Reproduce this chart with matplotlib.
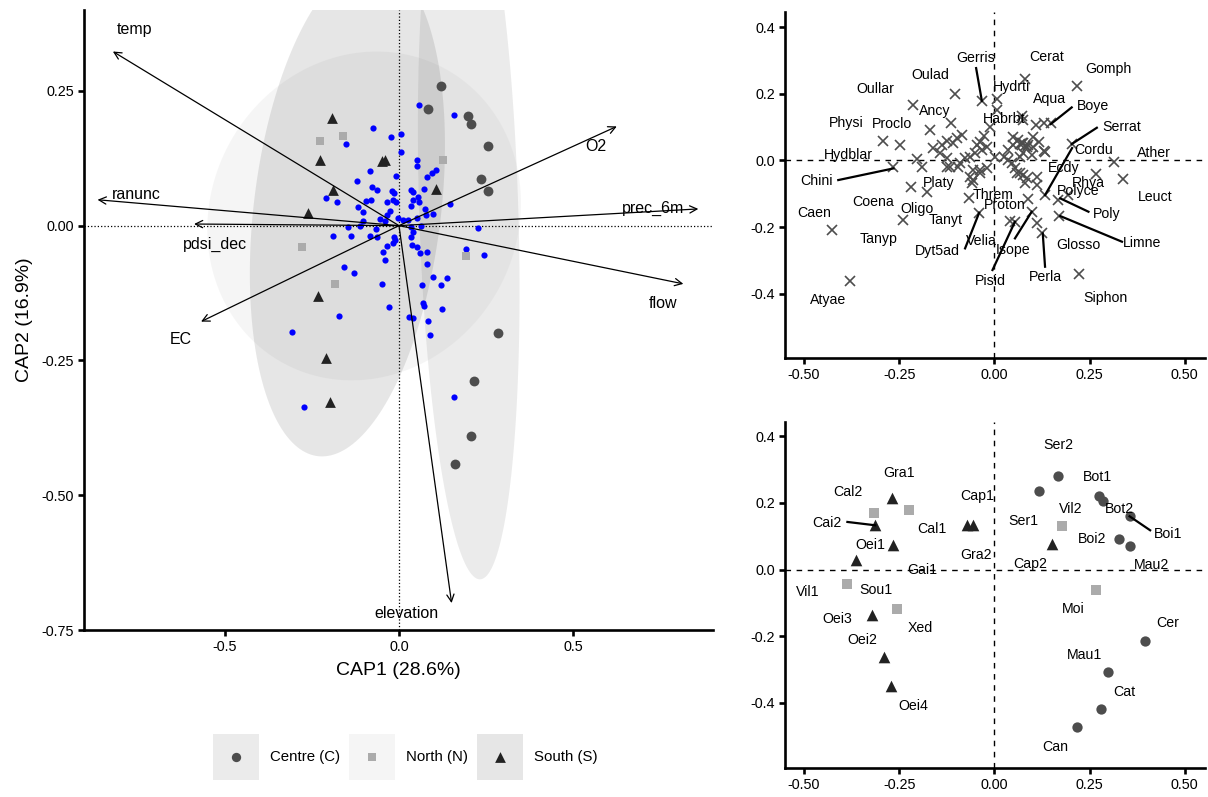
import numpy as np
import matplotlib.pyplot as plt
from matplotlib.patches import Rectangle

plt.rcParams['font.family'] = ['Liberation Sans', 'DejaVu Sans']
plt.rcParams['axes.unicode_minus'] = False

# ---------------- CAP ordination (left panel) ----------------
# samples (blue dots)
samp_x = [0.058, 0.157, -0.074, -0.153, -0.023, 0.005, 0.005, 0.051, 0.053, -0.083,
          0.107, 0.094, 0.080, -0.008, -0.121, -0.077, -0.062, -0.020, -0.014, 0.034,
          0.039, 0.073, -0.209, -0.178, -0.095, -0.080, -0.118, -0.034, -0.016, -0.009,
          0.034, 0.039, 0.054, 0.057, 0.146, 0.075, -0.104, -0.027, -0.035, 0.077,
          0.097, 0.051, -0.055, -0.039, -0.002, 0.012, 0.027, -0.102, -0.146, -0.111,
          -0.066, 0.035, 0.062, 0.226, -0.190, -0.138, -0.083, -0.013, 0.034, -0.064,
          -0.035, -0.045, -0.018, -0.011, -0.039, 0.041, 0.038, 0.051, 0.060, 0.081,
          0.080, 0.097, 0.139, 0.121, 0.065, 0.192, 0.243, -0.157, -0.128, -0.048,
          -0.029, 0.070, 0.071, 0.123, 0.082, 0.030, 0.041, 0.090, -0.171, -0.308,
          -0.273, 0.158]
samp_y = [0.224, 0.205, 0.182, 0.152, 0.164, 0.170, 0.136, 0.122, 0.111, 0.102,
          0.103, 0.097, 0.090, 0.092, 0.082, 0.071, 0.067, 0.064, 0.060, 0.066,
          0.062, 0.068, 0.051, 0.043, 0.046, 0.048, 0.035, 0.043, 0.048, 0.043,
          0.037, 0.047, 0.054, 0.044, 0.040, 0.031, 0.025, 0.027, 0.020, 0.019,
          0.022, 0.014, 0.012, 0.009, 0.014, 0.011, 0.011, 0.009, -0.002, 0.000,
          -0.006, -0.002, 0.000, -0.005, -0.020, -0.020, -0.020, -0.022, -0.022, -0.022,
          -0.037, -0.049, -0.032, -0.027, -0.064, -0.011, -0.036, -0.039, -0.051, -0.049,
          -0.072, -0.096, -0.098, -0.111, -0.111, -0.043, -0.054, -0.076, -0.088, -0.108,
          -0.150, -0.144, -0.149, -0.155, -0.176, -0.170, -0.172, -0.203, -0.167, -0.197,
          -0.336, -0.318]

# sites by region
cen_x = [0.121, 0.084, 0.198, 0.207, 0.256, 0.236, 0.256, 0.283, 0.214, 0.207, 0.161]
cen_y = [0.259, 0.217, 0.204, 0.188, 0.148, 0.086, 0.064, -0.200, -0.288, -0.391, -0.442]
nor_x = [-0.228, -0.162, 0.126, -0.279, -0.183, 0.192]
nor_y = [0.157, 0.167, 0.121, -0.039, -0.108, -0.056]
sou_x = [-0.193, -0.227, -0.050, -0.040, -0.190, -0.261, 0.107, -0.231, -0.209, -0.197]
sou_y = [0.199, 0.122, 0.120, 0.122, 0.066, 0.023, 0.068, -0.130, -0.246, -0.327]

# environmental vectors
vec_names = ['temp', 'ranunc', 'pdsi_dec', 'EC', 'O2', 'prec_6m', 'flow', 'elevation']
vec_x = [-0.821, -0.865, -0.588, -0.568, 0.625, 0.859, 0.816, 0.151]
vec_y = [0.323, 0.048, 0.003, -0.178, 0.184, 0.031, -0.108, -0.700]
vec_lx = [-0.759, -0.753, -0.527, -0.626, 0.566, 0.728, 0.757, 0.020]
vec_ly = [0.363, 0.058, -0.035, -0.212, 0.147, 0.032, -0.145, -0.720]

# region ellipses (Centre, North, South): centre, semi-axes, correlation
ell_cx = [0.200, -0.100, -0.148]
ell_cy = [0.030, 0.018, 0.030]
ell_a = [0.146, 0.450, 0.280]
ell_b = [0.686, 0.305, 0.458]
ell_r = [-0.22, 0.08, 0.26]

regions = ['Centre (C)', 'North (N)', 'South (S)']
reg_col = ['#4d4d4d', '#ababab', '#222222']
reg_mark = ['o', 's', '^']

# ---------------- species scores (top right) ----------------
sp_x = [0.081, 0.218, -0.104, -0.032, 0.006, -0.214, 0.006, 0.072, 0.075, -0.114,
        -0.011, 0.110, 0.129, 0.148, -0.169, -0.292, -0.248, -0.086, -0.099, -0.108,
        -0.125, -0.138, -0.160, -0.143, -0.125, -0.026, -0.038, -0.046, -0.020, -0.033,
        -0.051, -0.064, -0.077, 0.050, 0.063, 0.076, 0.068, 0.050, 0.037, 0.085,
        0.102, 0.129, 0.102, 0.116, 0.076, 0.098, 0.068, -0.204, -0.191, -0.265,
        -0.116, -0.095, -0.090, 0.002, 0.024, 0.037, 0.046, 0.054, 0.059, -0.020,
        -0.038, -0.064, -0.055, -0.059, 0.076, 0.085, 0.111, 0.111, -0.219, -0.178,
        0.133, -0.068, 0.089, 0.168, 0.194, 0.098, 0.170, -0.041, -0.239, 0.041,
        0.054, 0.111, 0.126, 0.315, 0.339, 0.267, 0.203, -0.427, -0.379, 0.221,
        0.133, 0.081, 0.089, 0.073, -0.125, -0.055, -0.038, 0.068, 0.081]
sp_y = [0.244, 0.223, 0.199, 0.178, 0.184, 0.167, 0.151, 0.133, 0.121, 0.112,
        0.101, 0.105, 0.111, 0.113, 0.090, 0.058, 0.047, 0.077, 0.066, 0.051,
        0.058, 0.046, 0.036, 0.021, 0.006, 0.073, 0.056, 0.046, 0.041, 0.031,
        0.021, 0.011, 0.006, 0.071, 0.061, 0.051, 0.049, 0.046, 0.031, 0.039,
        0.039, 0.029, 0.071, 0.056, 0.021, 0.016, 0.011, 0.003, -0.019, -0.021,
        -0.021, -0.019, -0.009, 0.011, 0.011, 0.001, -0.009, -0.024, -0.039, -0.024,
        -0.029, -0.049, -0.059, -0.069, -0.044, -0.054, -0.049, -0.074, -0.081, -0.096,
        -0.104, -0.114, -0.117, -0.119, -0.104, -0.154, -0.166, -0.159, -0.179, -0.181,
        -0.184, -0.189, -0.217, -0.004, -0.057, -0.042, 0.049, -0.209, -0.362, -0.341,
        0.026, 0.042, 0.047, 0.053, -0.019, -0.029, -0.039, -0.039, -0.069]

sp_lab = ['Gerris', 'Cerat', 'Gomph', 'Oulad', 'Oullar', 'Hydrti', 'Aqua', 'Boye',
          'Ancy', 'Physi', 'Proclo', 'Habrbt', 'Serrat', 'Cordu', 'Ather', 'Hydblar',
          'Chini', 'Ecdy', 'Rhya', 'Platy', 'Polyce', 'Threm', 'Leuct', 'Coena',
          'Oligo', 'Proton', 'Poly', 'Caen', 'Tanyt', 'Limne', 'Tanyp', 'Velia',
          'Glosso', 'Dyt5ad', 'Isope', 'Pisid', 'Perla', 'Siphon', 'Atyae']
sp_lx = [-0.048, 0.136, 0.298, -0.169, -0.313, 0.046, 0.144, 0.260,
         -0.156, -0.390, -0.270, 0.025, 0.333, 0.260, 0.418, -0.384,
         -0.467, 0.181, 0.247, -0.147, 0.221, -0.003, 0.422, -0.318,
         -0.202, 0.028, 0.295, -0.474, -0.127, 0.387, -0.305, -0.033,
         0.221, -0.151, 0.048, -0.011, 0.133, 0.291, -0.436]
sp_ly = [0.306, 0.309, 0.274, 0.256, 0.214, 0.221, 0.184, 0.163,
         0.149, 0.111, 0.109, 0.124, 0.101, 0.031, 0.021, 0.016,
         -0.062, -0.024, -0.067, -0.067, -0.091, -0.104, -0.109, -0.124,
         -0.146, -0.134, -0.162, -0.159, -0.179, -0.249, -0.237, -0.242,
         -0.254, -0.271, -0.269, -0.361, -0.349, -0.412, -0.419]
# repel segments (label end -> point)
sp_seg = [(-0.048, 0.277, -0.033, 0.179), (0.203, 0.159, 0.148, 0.109),
          (0.269, 0.098, 0.203, 0.049), (0.204, 0.037, 0.133, -0.104),
          (-0.410, -0.059, -0.265, -0.024), (0.247, -0.154, 0.173, -0.114),
          (0.335, -0.244, 0.173, -0.167), (-0.077, -0.264, -0.040, -0.157),
          (0.054, -0.234, 0.098, -0.154), (-0.005, -0.329, 0.054, -0.184),
          (0.133, -0.319, 0.127, -0.219)]

# ---------------- site scores (bottom right) ----------------
st_cen_x = [0.168, 0.117, 0.275, 0.286, 0.355, 0.328, 0.356, 0.396, 0.298, 0.279, 0.218]
st_cen_y = [0.280, 0.235, 0.220, 0.205, 0.160, 0.093, 0.070, -0.214, -0.309, -0.420, -0.474]
st_nor_x = [-0.317, -0.224, 0.177, -0.388, -0.256, 0.266]
st_nor_y = [0.170, 0.180, 0.130, -0.042, -0.117, -0.060]
st_sou_x = [-0.268, -0.313, -0.265, -0.364, -0.071, -0.055, 0.151, -0.322, -0.290, -0.272]
st_sou_y = [0.216, 0.133, 0.073, 0.028, 0.133, 0.133, 0.076, -0.137, -0.264, -0.350]

st_lab = ['Ser2', 'Gra1', 'Bot1', 'Cal2', 'Cap1', 'Vil2', 'Bot2', 'Ser1', 'Cai2',
          'Cal1', 'Boi1', 'Boi2', 'Oei1', 'Gra2', 'Cap2', 'Mau2', 'Gai1', 'Vil1',
          'Sou1', 'Oei3', 'Xed', 'Moi', 'Cer', 'Oei2', 'Mau1', 'Cat', 'Oei4', 'Can']
st_lx = [0.167, -0.250, 0.271, -0.386, -0.045, 0.201, 0.328, 0.075, -0.440,
         -0.164, 0.457, 0.256, -0.327, -0.049, 0.094, 0.413, -0.189, -0.491,
         -0.311, -0.412, -0.195, 0.208, 0.454, -0.348, 0.238, 0.341, -0.214, 0.159]
st_ly = [0.373, 0.291, 0.278, 0.233, 0.220, 0.183, 0.183, 0.146, 0.140,
         0.123, 0.106, 0.093, 0.073, 0.043, 0.016, 0.015, -0.002, -0.067,
         -0.062, -0.149, -0.175, -0.119, -0.160, -0.212, -0.257, -0.369, -0.409, -0.532]
st_seg = [(-0.386, 0.143, -0.313, 0.133), (0.409, 0.118, 0.355, 0.160)]


def ellipse_xy(cx, cy, a, b, r, n=200):
    t = np.linspace(0, 2 * np.pi, n)
    d = np.arccos(r)
    return cx + a * np.cos(t), cy + b * np.cos(t - d)


def style_axes(ax):
    for s in ['top', 'right']:
        ax.spines[s].set_visible(False)
    for s in ['left', 'bottom']:
        ax.spines[s].set_linewidth(1.9)
    ax.tick_params(width=1.9, length=4, labelsize=10.4, colors='black', pad=3)


fig = plt.figure(figsize=(12.08, 7.97), dpi=100)

# ---- left panel ----
ax = fig.add_axes([0.0695, 0.2095, 0.5207, 0.778])
for i in range(3):
    ex, ey = ellipse_xy(ell_cx[i], ell_cy[i], ell_a[i], ell_b[i], ell_r[i])
    ax.fill(ex, ey, color=reg_col[i], alpha=0.11, lw=0, zorder=1)
ax.axhline(0, color='black', ls=':', lw=0.9, zorder=2)
ax.axvline(0, color='black', ls=':', lw=0.9, zorder=2)
ax.scatter(samp_x, samp_y, s=20, color='#0000ff', lw=0, zorder=3)
ax.scatter(cen_x, cen_y, s=50, marker='o', color=reg_col[0], lw=0, zorder=3)
ax.scatter(nor_x, nor_y, s=40, marker='s', color=reg_col[1], lw=0, zorder=3)
ax.scatter(sou_x, sou_y, s=60, marker='^', color=reg_col[2], lw=0, zorder=3)
for name, x, y, lx, ly in zip(vec_names, vec_x, vec_y, vec_lx, vec_ly):
    ax.annotate('', xy=(x, y), xytext=(0, 0),
                arrowprops=dict(arrowstyle='->', lw=0.9, color='black',
                                mutation_scale=13, shrinkA=0, shrinkB=0), zorder=4)
    ax.text(lx, ly, name, ha='center', va='center', fontsize=11.5, zorder=5)
ax.set_xlim(-0.904, 0.901)
ax.set_ylim(-0.75, 0.40)
ax.set_xticks([-0.5, 0.0, 0.5])
ax.set_xticklabels(['-0.5', '0.0', '0.5'])
ax.set_yticks([-0.75, -0.5, -0.25, 0.0, 0.25])
ax.set_yticklabels(['-0.75', '-0.50', '-0.25', '0.00', '0.25'])
style_axes(ax)
ax.set_xlabel('CAP1 (28.6%)', fontsize=14, labelpad=6)
ax.set_ylabel('CAP2 (16.9%)', fontsize=14, labelpad=6)

# ---- top right: species ----
ax2 = fig.add_axes([0.6498, 0.5508, 0.3477, 0.434])
ax2.axhline(0, color='black', ls=(0, (4, 4)), lw=1.0, zorder=1)
ax2.axvline(0, color='black', ls=(0, (4, 4)), lw=1.0, zorder=1)
ax2.plot(sp_x, sp_y, ls='none', marker='x', ms=6.5, mew=1.2, color='#4d4d4d', zorder=2)
for x0, y0, x1, y1 in sp_seg:
    ax2.plot([x0, x1], [y0, y1], color='black', lw=1.6, zorder=3)
for lab, x, y in zip(sp_lab, sp_lx, sp_ly):
    ax2.text(x, y, lab, ha='center', va='center', fontsize=10.2, zorder=4)
ax2.set_xlim(-0.550, 0.553)
ax2.set_ylim(-0.593, 0.445)
ax2.set_xticks([-0.5, -0.25, 0, 0.25, 0.5])
ax2.set_xticklabels(['-0.50', '-0.25', '0.00', '0.25', '0.50'])
ax2.set_yticks([-0.4, -0.2, 0, 0.2, 0.4])
ax2.set_yticklabels(['-0.4', '-0.2', '0.0', '0.2', '0.4'])
style_axes(ax2)

# ---- bottom right: sites ----
ax3 = fig.add_axes([0.6498, 0.036, 0.3477, 0.434])
ax3.axhline(0, color='black', ls=(0, (4, 4)), lw=1.0, zorder=1)
ax3.axvline(0, color='black', ls=(0, (4, 4)), lw=1.0, zorder=1)
ax3.scatter(st_cen_x, st_cen_y, s=55, marker='o', color=reg_col[0], lw=0, zorder=2)
ax3.scatter(st_nor_x, st_nor_y, s=42, marker='s', color=reg_col[1], lw=0, zorder=2)
ax3.scatter(st_sou_x, st_sou_y, s=70, marker='^', color=reg_col[2], lw=0, zorder=2)
for x0, y0, x1, y1 in st_seg:
    ax3.plot([x0, x1], [y0, y1], color='black', lw=1.6, zorder=3)
for lab, x, y in zip(st_lab, st_lx, st_ly):
    ax3.text(x, y, lab, ha='center', va='center', fontsize=10.2, zorder=4)
ax3.set_xlim(-0.550, 0.553)
ax3.set_ylim(-0.597, 0.442)
ax3.set_xticks([-0.5, -0.25, 0, 0.25, 0.5])
ax3.set_xticklabels(['-0.50', '-0.25', '0.00', '0.25', '0.50'])
ax3.set_yticks([-0.4, -0.2, 0, 0.2, 0.4])
ax3.set_yticklabels(['-0.4', '-0.2', '0.0', '0.2', '0.4'])
style_axes(ax3)

# ---- legend (drawn by hand: square key with ellipse fill + point) ----
lg = fig.add_axes([0.172, 0.02, 0.44, 0.06])
lg.set_xlim(0, 531)
lg.set_ylim(0, 48)
lg.axis('off')
key_left = [5, 141, 269]
for i in range(3):
    lg.add_patch(Rectangle((key_left[i], 1), 46, 46, facecolor=reg_col[i],
                           alpha=0.11, lw=0))
    lg.scatter([key_left[i] + 23], [24], s=[45, 38, 60][i], marker=reg_mark[i],
               color=reg_col[i], lw=0)
    lg.text(key_left[i] + 57, 24, regions[i], ha='left', va='center', fontsize=10.8)

fig.savefig('out.png', dpi=100)
